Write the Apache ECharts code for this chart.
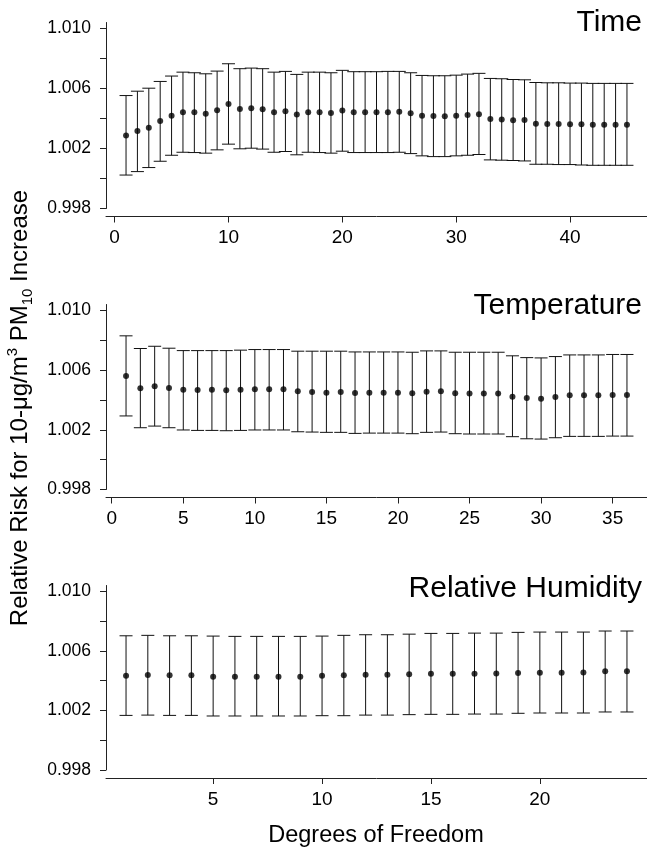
<!DOCTYPE html>
<html>
<head>
<meta charset="utf-8">
<script src="https://cdn.jsdelivr.net/npm/echarts@6/dist/echarts.min.js"></script>
<style>
html,body{margin:0;padding:0;background:#fff;}
#chart{width:647px;height:853px;}
</style>
</head>
<body>
<div id="chart"></div>
<script>
// ---------- Data ----------
const panelTitles = ['Time', 'Temperature', 'Relative Humidity'];
const yTickLabels = [0.998, 1.002, 1.006, 1.010];
const yMinorTicks = [0.998, 1.000, 1.002, 1.004, 1.006, 1.008, 1.010];
const timeXTicks = [0, 10, 20, 30, 40];
const tempXTicks = [0, 5, 10, 15, 20, 25, 30, 35];
const humXTicks = [5, 10, 15, 20];

const timeDf = [1,2,3,4,5,6,7,8,9,10,11,12,13,14,15,16,17,18,19,20,21,22,23,24,25,26,27,28,29,30,31,32,33,34,35,36,37,38,39,40,41,42,43,44,45];
const timeRR = [1.00287,1.00316,1.00339,1.00383,1.00419,1.00441,1.00441,1.00432,1.00455,1.00497,1.00464,1.00468,1.00461,1.00441,1.00448,1.00426,1.00441,1.00441,1.00437,1.00453,1.00441,1.00441,1.00441,1.00441,1.00445,1.00435,1.00419,1.00417,1.00415,1.00419,1.00423,1.00428,1.00397,1.00394,1.00388,1.00390,1.00365,1.00363,1.00363,1.00361,1.00361,1.00359,1.00359,1.00359,1.00359];
const timeUpper = [1.00553,1.00582,1.00602,1.00647,1.00683,1.00709,1.00705,1.00698,1.00716,1.00765,1.00732,1.00736,1.00732,1.00709,1.00714,1.00694,1.00709,1.00709,1.00705,1.00721,1.00712,1.00712,1.00712,1.00714,1.00714,1.00705,1.00687,1.00685,1.00685,1.00689,1.00696,1.00701,1.00667,1.00665,1.00660,1.00658,1.00640,1.00638,1.00638,1.00636,1.00636,1.00634,1.00634,1.00634,1.00634];
const timeLower = [1.00023,1.00046,1.00073,1.00115,1.00155,1.00175,1.00173,1.00169,1.00191,1.00229,1.00198,1.00202,1.00196,1.00175,1.00180,1.00158,1.00175,1.00173,1.00169,1.00182,1.00173,1.00173,1.00173,1.00173,1.00175,1.00166,1.00151,1.00146,1.00146,1.00151,1.00155,1.00160,1.00124,1.00122,1.00120,1.00117,1.00095,1.00095,1.00093,1.00093,1.00090,1.00088,1.00088,1.00088,1.00088];

const tempDf = [1,2,3,4,5,6,7,8,9,10,11,12,13,14,15,16,17,18,19,20,21,22,23,24,25,26,27,28,29,30,31,32,33,34,35,36];
const tempRR = [1.00561,1.00478,1.00492,1.00481,1.00469,1.00467,1.00469,1.00465,1.00469,1.00472,1.00472,1.00472,1.00458,1.00454,1.00449,1.00454,1.00447,1.00449,1.00449,1.00449,1.00445,1.00456,1.00458,1.00445,1.00443,1.00443,1.00443,1.00422,1.00413,1.00409,1.00420,1.00431,1.00431,1.00431,1.00434,1.00434];
const tempUpper = [1.00830,1.00745,1.00760,1.00747,1.00731,1.00731,1.00731,1.00731,1.00734,1.00738,1.00738,1.00738,1.00727,1.00727,1.00727,1.00727,1.00722,1.00722,1.00722,1.00722,1.00720,1.00729,1.00729,1.00720,1.00720,1.00720,1.00720,1.00696,1.00684,1.00682,1.00691,1.00702,1.00702,1.00702,1.00705,1.00705];
const tempLower = [1.00293,1.00214,1.00225,1.00214,1.00199,1.00196,1.00196,1.00194,1.00196,1.00199,1.00199,1.00199,1.00187,1.00185,1.00183,1.00183,1.00176,1.00178,1.00178,1.00178,1.00174,1.00183,1.00185,1.00174,1.00172,1.00172,1.00172,1.00154,1.00140,1.00138,1.00147,1.00156,1.00156,1.00156,1.00158,1.00158];

const humDf = [1,2,3,4,5,6,7,8,9,10,11,12,13,14,15,16,17,18,19,20,21,22,23,24];
const humRR = [1.00434,1.00438,1.00436,1.00436,1.00427,1.00427,1.00427,1.00427,1.00427,1.00434,1.00436,1.00440,1.00440,1.00443,1.00447,1.00447,1.00447,1.00449,1.00452,1.00454,1.00454,1.00456,1.00463,1.00463];
const humUpper = [1.00702,1.00705,1.00702,1.00702,1.00700,1.00698,1.00698,1.00698,1.00698,1.00700,1.00705,1.00709,1.00709,1.00713,1.00718,1.00718,1.00720,1.00720,1.00725,1.00727,1.00727,1.00727,1.00734,1.00734];
const humLower = [1.00167,1.00169,1.00167,1.00167,1.00163,1.00163,1.00163,1.00163,1.00163,1.00165,1.00165,1.00169,1.00169,1.00172,1.00174,1.00174,1.00176,1.00176,1.00181,1.00183,1.00183,1.00183,1.00190,1.00190];

// ---------- Layout ----------
const FONT = 'Liberation Sans, Arial, Helvetica, sans-serif';
const panels = [
  {df: timeDf, rr: timeRR, up: timeUpper, lo: timeLower, xTicks: timeXTicks, xMin: -0.76, xMax: 46.76, top: 22.5, height: 186, titleTop: 3},
  {df: tempDf, rr: tempRR, up: tempUpper, lo: tempLower, xTicks: tempXTicks, xMin: -0.4, xMax: 37.4, top: 304.5, height: 185, titleTop: 286},
  {df: humDf, rr: humRR, up: humUpper, lo: humLower, xTicks: humXTicks, xMin: 0.08, xMax: 24.92, top: 585.5, height: 184.5, titleTop: 569}
];

const grids = [], xAxes = [], yAxes = [], series = [], titles = [];
panels.forEach((p, i) => {
  grids.push({left: 106, width: 541, top: p.top, height: p.height, containLabel: false});
  xAxes.push({
    type: 'value', gridIndex: i, min: p.xMin, max: p.xMax, offset: 8,
    axisLine: {show: true, onZero: false, lineStyle: {color: '#222', width: 1}},
    axisTick: {show: true, length: 6, customValues: p.xTicks, lineStyle: {color: '#222'}},
    axisLabel: {show: true, customValues: p.xTicks, margin: 12, color: '#000', fontSize: 19, fontFamily: FONT},
    splitLine: {show: false}
  });
  yAxes.push({
    type: 'value', gridIndex: i, min: 0.998, max: 1.0104,
    axisLine: {show: true, onZero: false, lineStyle: {color: '#222', width: 1}},
    axisTick: {show: true, length: 6, customValues: yMinorTicks, lineStyle: {color: '#222'}},
    axisLabel: {show: true, customValues: yTickLabels, margin: 15, color: '#000', fontSize: 17.5, fontFamily: FONT,
      formatter: v => v.toFixed(3)},
    splitLine: {show: false}
  });
  const barData = p.df.map((d, k) => [d, p.lo[k], p.up[k]]);
  series.push({
    type: 'custom', xAxisIndex: i, yAxisIndex: i, data: barData, silent: true, clip: false,
    encode: {x: 0, y: [1, 2]},
    renderItem: function (params, api) {
      const x = api.value(0);
      const pHi = api.coord([x, api.value(2)]);
      const pLo = api.coord([x, api.value(1)]);
      const hw = 6.5;
      const st = {stroke: '#111', lineWidth: 1};
      return {type: 'group', children: [
        {type: 'line', shape: {x1: pHi[0], y1: pHi[1], x2: pLo[0], y2: pLo[1]}, style: st},
        {type: 'line', shape: {x1: pHi[0] - hw, y1: pHi[1], x2: pHi[0] + hw, y2: pHi[1]}, style: st},
        {type: 'line', shape: {x1: pLo[0] - hw, y1: pLo[1], x2: pLo[0] + hw, y2: pLo[1]}, style: st}
      ]};
    }
  });
  series.push({
    type: 'scatter', xAxisIndex: i, yAxisIndex: i, silent: true,
    data: p.df.map((d, k) => [d, p.rr[k]]),
    symbol: 'circle', symbolSize: 6, itemStyle: {color: '#000'}
  });
  titles.push({text: panelTitles[i], right: 0, top: p.titleTop,
    textStyle: {fontSize: 30, fontWeight: 'normal', color: '#000', fontFamily: FONT}});
});

const chart = echarts.init(document.getElementById('chart'), null, {renderer: 'canvas'});
chart.setOption({
  animation: false,
  backgroundColor: '#fff',
  title: titles,
  grid: grids,
  xAxis: xAxes,
  yAxis: yAxes,
  series: series,
  graphic: [
    {
      type: 'text', x: 20, y: 408, rotation: Math.PI / 2,
      style: {
        text: '{a|Relative Risk for 10-μg/m}{sup|3}{a| PM}{sub|10}{a| Increase}',
        align: 'center', verticalAlign: 'middle', fill: '#000',
        rich: {
          a: {fontSize: 24, lineHeight: 30, fontFamily: FONT, fill: '#000'},
          sup: {fontSize: 15, lineHeight: 16, verticalAlign: 'top', fontFamily: FONT, fill: '#000'},
          sub: {fontSize: 15, lineHeight: 16, verticalAlign: 'bottom', fontFamily: FONT, fill: '#000'}
        }
      }
    },
    {
      type: 'text', x: 376, y: 836,
      style: {text: 'Degrees of Freedom', align: 'center', verticalAlign: 'middle', fontSize: 23.5, fontFamily: FONT, fill: '#000'}
    }
  ]
});
</script>
</body>
</html>
